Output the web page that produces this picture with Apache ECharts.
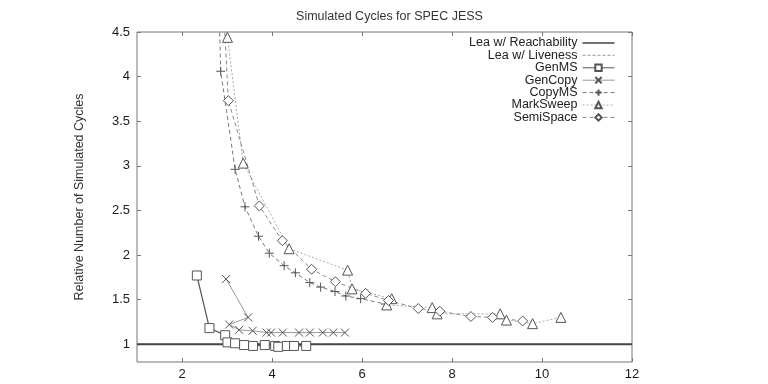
<!DOCTYPE html>
<html>
<head>
<meta charset="utf-8">
<script src="https://cdn.jsdelivr.net/npm/echarts@6/dist/echarts.min.js"></script>
<style>html,body{margin:0;padding:0;background:#fff}#c{width:768px;height:384px}</style>
</head>
<body>
<div id="c"></div>
<script>
const title = 'Simulated Cycles for SPEC JESS';
const yName = 'Relative Number of Simulated Cycles';
const xTicks = [2, 4, 6, 8, 10, 12];
const yTicks = [1, 1.5, 2, 2.5, 3, 3.5, 4, 4.5];

const leaReach_x = [1, 12];
const leaReach_y = [1, 1];
const leaLive_x = [1, 12];
const leaLive_y = [1, 1];

const genMS_x = [2.33, 2.61, 2.96, 3.01, 3.18, 3.38, 3.58, 3.84, 4.07, 4.14, 4.33, 4.49, 4.76];
const genMS_y = [1.77, 1.18, 1.10, 1.02, 1.01, 0.99, 0.98, 0.99, 0.98, 0.97, 0.98, 0.98, 0.98];

const genCopy_x = [2.98, 3.47, 3.05, 3.27, 3.57, 3.88, 3.98, 4.24, 4.60, 4.84, 5.13, 5.36, 5.62];
const genCopy_y = [1.73, 1.30, 1.22, 1.16, 1.15, 1.13, 1.13, 1.13, 1.13, 1.13, 1.13, 1.13, 1.13];

const copyMS_x = [2.80, 2.86, 3.18, 3.40, 3.70, 3.94, 4.27, 4.52, 4.84, 5.08, 5.40, 5.64, 5.97, 6.52];
const copyMS_y = [5.20, 4.06, 2.96, 2.54, 2.21, 2.02, 1.88, 1.80, 1.69, 1.64, 1.59, 1.54, 1.51, 1.45];

const markSweep_x = [2.97, 3.01, 3.36, 4.38, 5.68, 5.78, 6.66, 6.55, 7.56, 7.67, 9.07, 9.21, 9.79, 10.42];
const markSweep_y = [5.20, 4.44, 3.03, 2.07, 1.83, 1.62, 1.51, 1.44, 1.41, 1.34, 1.34, 1.27, 1.23, 1.30];

const semiSpace_x = [2.88, 3.03, 3.72, 4.23, 4.88, 5.41, 6.08, 6.59, 7.25, 7.73, 8.42, 8.90, 9.57];
const semiSpace_y = [5.20, 3.73, 2.55, 2.16, 1.84, 1.70, 1.57, 1.49, 1.40, 1.37, 1.31, 1.30, 1.26];

const zip = (xs, ys) => xs.map((x, i) => [x, ys[i]]);
const FONT = '"Liberation Sans", Arial, sans-serif';
const MK = '#555';

function mkSeries(name, xs, ys, symbol, size, lineColor, lineType, lineWidth) {
  return {
    name: name, type: 'line', data: zip(xs, ys), clip: true,
    symbol: symbol, symbolSize: size, showSymbol: symbol !== 'none',
    lineStyle: { color: lineColor, type: lineType, width: lineWidth },
    itemStyle: { color: '#fff', borderColor: MK, borderWidth: 1 },
    emphasis: { disabled: true }, animation: false, z: 3
  };
}

const solidIcon = 'path://M0,0L32,0L32,1.6L0,1.6Z';
const dashIcon = 'path://M0,0L3,0L3,1.2L0,1.2ZM5,0L8,0L8,1.2L5,1.2ZM10,0L13,0L13,1.2L10,1.2ZM15,0L18,0L18,1.2L15,1.2ZM20,0L23,0L23,1.2L20,1.2ZM25,0L28,0L28,1.2L25,1.2ZM30,0L32,0L32,1.2L30,1.2Z';

const chart = echarts.init(document.getElementById('c'), null, { renderer: 'canvas' });
chart.setOption({
  backgroundColor: '#fff',
  animation: false,
  textStyle: { fontFamily: FONT },
  title: {
    text: title, left: 384.5, textAlign: 'center', top: 5,
    textStyle: { fontFamily: FONT, fontSize: 12.5, fontWeight: 'normal', color: '#333' }
  },
  grid: { left: 137, right: 136, top: 32, bottom: 22, show: true, borderColor: '#777', borderWidth: 1, backgroundColor: 'transparent' },
  legend: {
    orient: 'vertical', right: 148, top: 31.5, align: 'right',
    itemWidth: 32, itemHeight: 8, itemGap: -0.6, selectedMode: false,
    lineStyle: { width: 1 },
    textStyle: { fontFamily: FONT, fontSize: 12.5, color: '#222' },
    data: [
      { name: 'Lea w/ Reachability', icon: solidIcon, itemStyle: { color: '#444', borderWidth: 0 } },
      { name: 'Lea w/ Liveness', icon: dashIcon, itemStyle: { color: '#aaa', borderWidth: 0 } },
      'GenMS', 'GenCopy', 'CopyMS', 'MarkSweep', 'SemiSpace'
    ]
  },
  xAxis: [{
    type: 'value', min: 1, max: 12,
    axisLine: { show: false }, splitLine: { show: false },
    axisTick: { show: true, inside: true, length: 4, lineStyle: { color: '#777' }, customValues: xTicks },
    axisLabel: { show: true, color: '#1a1a1a', fontSize: 13, fontFamily: FONT, margin: 6, customValues: xTicks }
  }, {
    type: 'value', min: 1, max: 12, position: 'top',
    axisLine: { show: false }, splitLine: { show: false },
    axisTick: { show: true, inside: true, length: 4, lineStyle: { color: '#777' }, customValues: xTicks },
    axisLabel: { show: false }
  }],
  yAxis: [{
    type: 'value', min: 0.8, max: 4.5,
    name: yName, nameLocation: 'middle', nameGap: 51, nameRotate: 90,
    nameTextStyle: { fontFamily: FONT, fontSize: 12.5, color: '#333' },
    axisLine: { show: false }, splitLine: { show: false },
    axisTick: { show: true, inside: true, length: 4, lineStyle: { color: '#777' }, customValues: yTicks },
    axisLabel: { show: true, color: '#1a1a1a', fontSize: 13, fontFamily: FONT, margin: 7, customValues: yTicks }
  }, {
    type: 'value', min: 0.8, max: 4.5, position: 'right',
    axisLine: { show: false }, splitLine: { show: false },
    axisTick: { show: true, inside: true, length: 4, lineStyle: { color: '#777' }, customValues: yTicks },
    axisLabel: { show: false }
  }],
  series: [
    mkSeries('Lea w/ Liveness', leaLive_x, leaLive_y, 'none', 0, '#aaa', [3, 2], 1),
    mkSeries('Lea w/ Reachability', leaReach_x, leaReach_y, 'none', 0, '#444', 'solid', 2),
    mkSeries('GenMS', genMS_x, genMS_y, 'rect', 9, '#555', 'solid', 1.2),
    mkSeries('GenCopy', genCopy_x, genCopy_y, 'path://M0,0L10,10M10,0L0,10', 8, '#999', 'solid', 1),
    mkSeries('CopyMS', copyMS_x, copyMS_y, 'path://M5,0L5,10M0,5L10,5', 9, '#777', [4, 3], 1),
    mkSeries('MarkSweep', markSweep_x, markSweep_y, 'triangle', 10, '#aaa', [2, 2], 1),
    mkSeries('SemiSpace', semiSpace_x, semiSpace_y, 'diamond', 10, '#888', [4, 3], 1)
  ]
});
</script>
</body>
</html>
